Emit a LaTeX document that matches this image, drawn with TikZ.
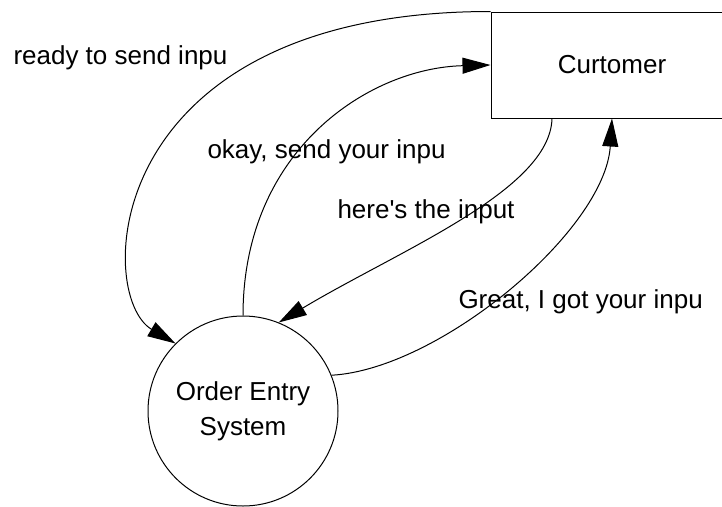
\documentclass[tikz,border=0pt]{standalone}
\usepackage{fontspec}
\setmainfont{Liberation Sans}
\usetikzlibrary{arrows.meta}

\begin{document}
\begin{tikzpicture}[x=1pt, y=-1pt, line width=1pt,
		flow/.style={-{Triangle[length=28pt,width=16pt]}},
		msg/.style={anchor=base west, inner sep=0pt, font=\fontsize{26}{31}\selectfont}]
			%%%%% START %%%%%
			
			\useasboundingbox (0,0) rectangle (722,506);
			\clip (0,0) rectangle (722,506);
			
			\node[draw, minimum width=242pt, minimum height=106pt, font=\fontsize{26}{31}\selectfont] (cust) at (612,65) {Curtomer};
			\node[draw, circle, minimum size=190pt, align=center, font=\fontsize{26}{35}\selectfont] (oes) at (243,411) {Order Entry\\System};
			
			\node[msg] (ready) at (13,64) {ready to send inpu};
			\node[msg] (okay) at (207,158) {okay, send your inpu};
			\node[msg] (here) at (337,218) {here\textquotesingle s the input};
			\node[msg] (great) at (458,308) {Great, I got your inpu};
			
			\draw[flow] (cust.north west) .. controls +(-391,0) and +(-81,-48) .. (oes.135);
			\draw[flow] (oes.north) .. controls +(0,-166) and +(-121,3) .. (cust.west);
			\draw[flow] ([xshift=-60pt]cust.south) .. controls +(-2,72) and +(120,-72) .. (oes.68);
			\draw[flow] (oes.22) .. controls +(108,-6) and +(-7,112) .. (cust.south);
			
			%%%%% END %%%%%
\end{tikzpicture}
\end{document}
